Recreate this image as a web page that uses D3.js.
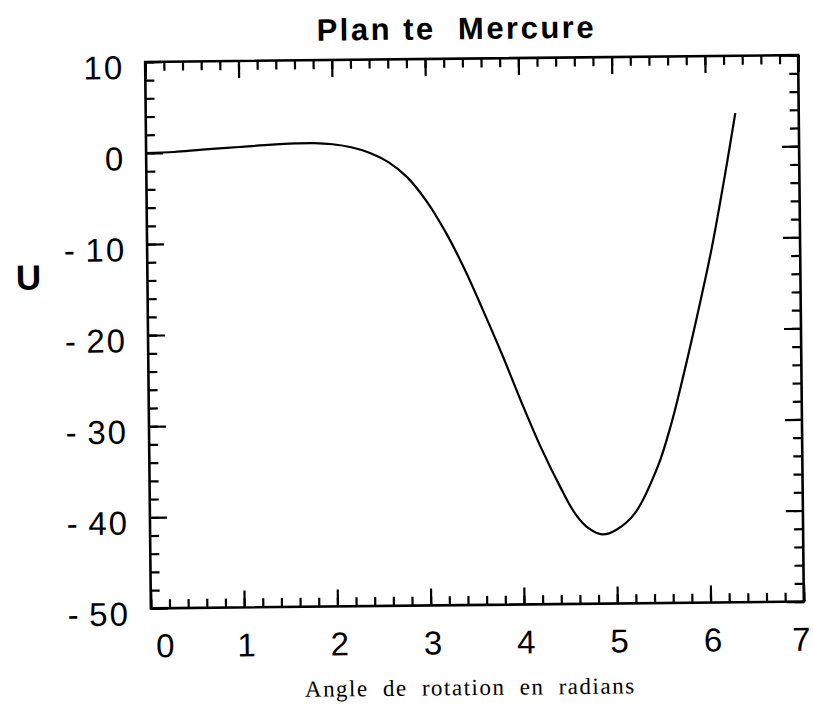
<!DOCTYPE html>
<html>
<head>
<meta charset="utf-8">
<script src="https://cdn.jsdelivr.net/npm/d3@7"></script>
<style>
  body { margin: 0; background: #fff; }
  text { fill: #000; }
</style>
</head>
<body>
<script>
const width = 813;
const height = 719;

// curve
const angle = [0, 0.3, 0.6, 1.0, 1.35, 1.6, 1.8, 2.0, 2.2, 2.4, 2.6, 2.8, 3.0,
  3.2, 3.4, 3.6, 3.8, 4.0, 4.2, 4.4, 4.56, 4.7, 4.85, 5.0, 5.2, 5.45, 5.6, 5.75,
  5.9, 6.05, 6.2, 6.32];
const energy = [0, 0.08, 0.3, 0.55, 0.78, 0.88, 0.9, 0.75, 0.4, -0.25, -1.3, -3.0, -5.6,
  -9.0, -13.1, -17.8, -22.7, -27.9, -32.8, -37.1, -40.1, -41.7, -42.4, -41.9, -40.1, -35.0, -30.3, -24.4,
  -18.0, -11.2, -3.2, 3.7];

const xTickLabels = [0, 1, 2, 3, 4, 5, 6, 7];
const yTickLabels = [10, 0, -10, -20, -30, -40, -50];

const margin = { top: 58.5, right: 12, bottom: 114, left: 148 };
const innerW = width - margin.left - margin.right;
const innerH = height - margin.top - margin.bottom;

const x = d3.scaleLinear().domain([0, 7]).range([margin.left, margin.left + innerW]);
const y = d3.scaleLinear().domain([-50, 10]).range([margin.top + innerH, margin.top]);

const svg = d3
  .select("body")
  .append("svg")
  .attr("width", width)
  .attr("height", height);

// the scan is a little tilted
const cx = margin.left + innerW / 2;
const cy = margin.top + innerH / 2;
const g = svg.append("g").attr("transform", `rotate(-0.6, ${cx}, ${cy})`);

const xMinor = d3.range(0, 7.001, 0.2).map((d) => +d.toFixed(1));
const yMinor = d3.range(-50, 10.001, 2);

function drawTicks(axis, transform) {
  const a = g.append("g").attr("transform", transform).call(axis);
  a.select(".domain").remove();
  a.selectAll("line").attr("stroke", "#000").attr("stroke-width", 2.2);
}

// minor + major ticks, all pointing inward
drawTicks(d3.axisBottom(x).tickValues(xMinor).tickSize(-9).tickFormat(""), `translate(0,${y(-50)})`);
drawTicks(d3.axisBottom(x).tickValues(xTickLabels).tickSize(-17).tickFormat(""), `translate(0,${y(-50)})`);
drawTicks(d3.axisTop(x).tickValues(xMinor).tickSize(-9).tickFormat(""), `translate(0,${y(10)})`);
drawTicks(d3.axisTop(x).tickValues(xTickLabels).tickSize(-17).tickFormat(""), `translate(0,${y(10)})`);
drawTicks(d3.axisLeft(y).tickValues(yMinor).tickSize(-9).tickFormat(""), `translate(${x(0)},0)`);
drawTicks(d3.axisLeft(y).tickValues(yTickLabels).tickSize(-17).tickFormat(""), `translate(${x(0)},0)`);
drawTicks(d3.axisRight(y).tickValues(yMinor).tickSize(-9).tickFormat(""), `translate(${x(7)},0)`);
drawTicks(d3.axisRight(y).tickValues(yTickLabels).tickSize(-17).tickFormat(""), `translate(${x(7)},0)`);

// frame
g.append("rect")
  .attr("x", x(0))
  .attr("y", y(10))
  .attr("width", x(7) - x(0))
  .attr("height", y(-50) - y(10))
  .attr("fill", "none")
  .attr("stroke", "#000")
  .attr("stroke-width", 2.6);

// curve
const line = d3
  .line()
  .x((d, i) => x(angle[i]))
  .y((d) => y(d))
  .curve(d3.curveCatmullRom.alpha(0.5));

g.append("path")
  .datum(energy)
  .attr("d", line)
  .attr("fill", "none")
  .attr("stroke", "#000")
  .attr("stroke-width", 2.2);

// tick labels
g.append("g")
  .selectAll("text")
  .data(yTickLabels)
  .join("text")
  .attr("x", x(0) - 21)
  .attr("y", (d) => y(d) + 17)
  .attr("text-anchor", "end")
  .style("font-family", "'Liberation Sans', Arial, sans-serif")
  .style("font-size", "33px")
  .style("letter-spacing", "2px")
  .text((d) => (d < 0 ? "-\u2009" + Math.abs(d) : d));

g.append("g")
  .selectAll("text")
  .data(xTickLabels)
  .join("text")
  .attr("x", (d) => x(d) + (d === 0 ? 14 : d === 7 ? -3 : 2))
  .attr("y", y(-50) + 49)
  .attr("text-anchor", "middle")
  .style("font-family", "'Liberation Sans', Arial, sans-serif")
  .style("font-size", "33px")
  .text((d) => d);

// titles
g.append("text")
  .attr("x", cx - 15)
  .attr("y", 39)
  .attr("text-anchor", "middle")
  .style("font-family", "'Liberation Sans', Arial, sans-serif")
  .style("font-weight", "bold")
  .style("font-size", "31px")
  .style("letter-spacing", "2.5px")
  .style("white-space", "pre")
  .text("Plan te  Mercure");

g.append("text")
  .attr("x", 29)
  .attr("y", 285)
  .attr("text-anchor", "middle")
  .style("font-family", "'Liberation Sans', Arial, sans-serif")
  .style("font-weight", "bold")
  .style("font-size", "35px")
  .text("U");

g.append("text")
  .attr("x", cx - 8)
  .attr("y", 695)
  .attr("text-anchor", "middle")
  .style("font-family", "'Liberation Serif', 'Times New Roman', serif")
  .style("font-size", "23px")
  .style("letter-spacing", "1.5px")
  .style("word-spacing", "7px")
  .text("Angle de rotation en radians");
</script>
</body>
</html>
